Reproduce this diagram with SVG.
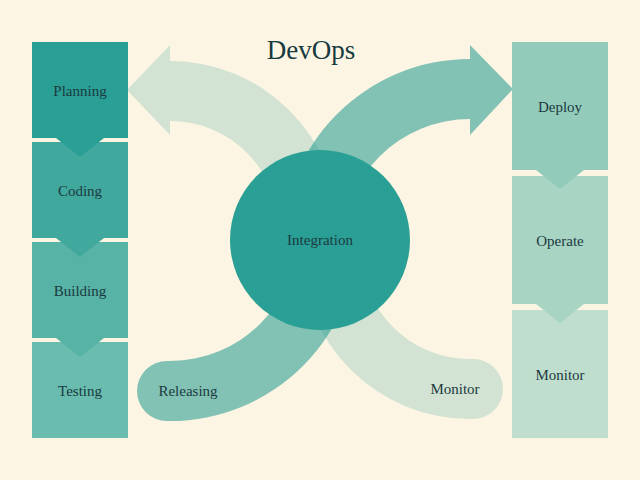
<svg xmlns="http://www.w3.org/2000/svg" width="640" height="480" viewBox="0 0 640 480">
  <style>
    .lbl { font-family: "Liberation Serif", "DejaVu Serif", serif; font-size: 15px; fill: #1b3a40; text-anchor: middle; }
    .title { font-family: "Liberation Serif", "DejaVu Serif", serif; font-size: 27px; fill: #163a40; text-anchor: middle; }
    .light { fill: #2a9d94; fill-opacity: 0.2; }
    .mid { fill: #2a9d94; fill-opacity: 0.58; }
  </style>
  <rect x="0" y="0" width="640" height="480" fill="#fdf5e3"/>

  <text class="title" x="311" y="59">DevOps</text>

  <g id="connectors">
    <path id="arm-top-left" class="light" d="M127,90 L170,45 L170,61 A169,169 0 0 1 339,230 L279,230 A109,109 0 0 0 170,121 L170,135 Z"/>
    <path id="arm-bottom-right" class="light" d="M470,359 A109,109 0 0 1 361,250 L301,250 A169,169 0 0 0 470,419 L473,419 A30,30 0 0 0 473,359 Z"/>
    <path id="arm-top-right" class="mid" d="M513,89 L470,135 L470,119 A128,128 0 0 0 342,247 L282,247 A188,188 0 0 1 470,59 L470,45 Z"/>
    <path id="arm-bottom-left" class="mid" d="M170,361 A128,128 0 0 0 298,233 L358,233 A188,188 0 0 1 170,421 L167,421 A30,30 0 0 1 167,361 Z"/>
  </g>

  <g id="releasing">
    <text class="lbl" x="188" y="396">Releasing</text>
  </g>
  <g id="monitor-arm">
    <text class="lbl" x="455" y="394">Monitor</text>
  </g>

  <g id="integration">
    <circle cx="320" cy="240" r="90" fill="#2a9f95"/>
    <text class="lbl" x="320" y="245">Integration</text>
  </g>

  <g id="testing">
    <rect x="32" y="342" width="96" height="96" fill="#69bcae"/>
    <text class="lbl" x="80" y="396">Testing</text>
  </g>
  <g id="building">
    <rect x="32" y="242" width="96" height="96" fill="#57b3a6"/>
    <polygon points="56,338 104,338 80,357" fill="#57b3a6"/>
    <text class="lbl" x="80" y="296">Building</text>
  </g>
  <g id="coding">
    <rect x="32" y="142" width="96" height="96" fill="#41a89e"/>
    <polygon points="56,238 104,238 80,257" fill="#41a89e"/>
    <text class="lbl" x="80" y="196">Coding</text>
  </g>
  <g id="planning">
    <rect x="32" y="42" width="96" height="96" fill="#2a9f95"/>
    <polygon points="56,138 104,138 80,157" fill="#2a9f95"/>
    <text class="lbl" x="80" y="96">Planning</text>
  </g>

  <g id="monitor">
    <rect x="512" y="310" width="96" height="128" fill="#c0decd"/>
    <text class="lbl" x="560" y="380">Monitor</text>
  </g>
  <g id="operate">
    <rect x="512" y="176" width="96" height="128" fill="#a8d4c4"/>
    <polygon points="536,304 584,304 560,323" fill="#a8d4c4"/>
    <text class="lbl" x="560" y="246">Operate</text>
  </g>
  <g id="deploy">
    <rect x="512" y="42" width="96" height="128" fill="#93cbbb"/>
    <polygon points="536,170 584,170 560,189" fill="#93cbbb"/>
    <text class="lbl" x="560" y="112">Deploy</text>
  </g>
</svg>
